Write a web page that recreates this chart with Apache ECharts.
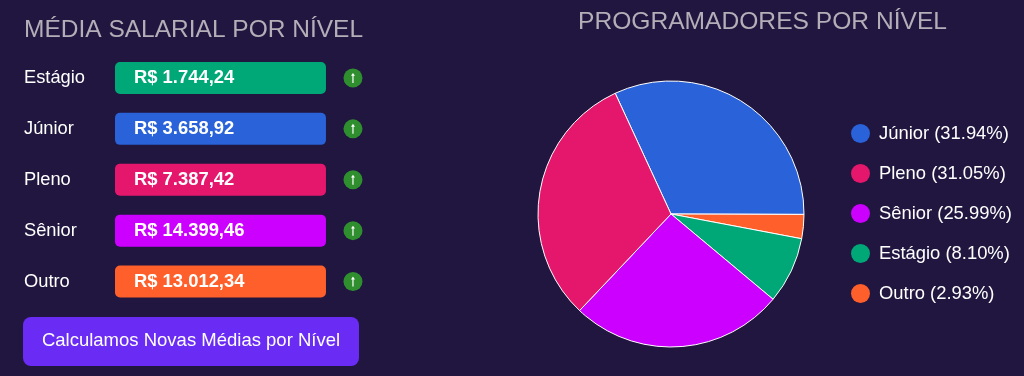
<!DOCTYPE html>
<html>
<head>
<meta charset="utf-8">
<style>
	html, body { margin: 0; padding: 0; background: #21163f; }
	#chart { width: 1024px; height: 376px; }
</style>
<script src="https://cdn.jsdelivr.net/npm/echarts@6/dist/echarts.min.js"></script>
</head>
<body>
<div id="chart"></div>
<script>
	// lista da esquerda
	var niveis = ['Estágio', 'Júnior', 'Pleno', 'Sênior', 'Outro'];
	var salarios = ['R$ 1.744,24', 'R$ 3.658,92', 'R$ 7.387,42', 'R$ 14.399,46', 'R$ 13.012,34'];
	var coresNiveis = ['#00a878', '#2962d9', '#e5176c', '#cc00ff', '#ff5f2a'];
	var larguraCaixa = [1, 1, 1, 1, 1]; // todas as caixas tem o mesmo tamanho
	var posicaoSeta = [1.128, 1.128, 1.128, 1.128, 1.128];

	// pizza, na ordem horaria do desenho
	var pizzaNomes = ['Júnior', 'Outro', 'Estágio', 'Sênior', 'Pleno'];
	var pizzaValores = [31.94, 2.93, 8.10, 25.99, 31.05];
	var pizzaCores = ['#2962d9', '#ff5f2a', '#00a878', '#cc00ff', '#e5176c'];
	var legendaOrdem = ['Júnior', 'Pleno', 'Sênior', 'Estágio', 'Outro'];

	var fonte = '"Liberation Sans", Arial, sans-serif';
	var myChart = echarts.init(document.getElementById('chart'), null, { renderer: 'canvas' });

	myChart.setOption({
		animation: false,
		backgroundColor: '#21163f',
		textStyle: { fontFamily: fonte },
		title: [
			{
				text: 'MÉDIA SALARIAL POR NÍVEL',
				left: 19, top: 13,
				textStyle: { color: '#b4aeb8', fontSize: 24.5, fontWeight: 'normal', fontFamily: fonte }
			},
			{
				text: 'PROGRAMADORES POR NÍVEL',
				left: 573, top: 5,
				textStyle: { color: '#b4aeb8', fontSize: 24.6, fontWeight: 'normal', fontFamily: fonte }
			}
		],
		legend: {
			orient: 'vertical',
			left: 846, top: 119,
			itemWidth: 19, itemHeight: 19, itemGap: 21,
			icon: 'circle',
			data: legendaOrdem,
			itemStyle: { borderWidth: 0 },
			formatter: function (nome) {
				var valor = pizzaValores[pizzaNomes.indexOf(nome)];
				return nome + ' (' + valor.toFixed(2) + '%)';
			},
			textStyle: { color: '#ffffff', fontSize: 18.4, padding: [0, 0, 0, 4], fontFamily: fonte }
		},
		grid: { left: 115, top: 52.5, width: 250, height: 254.5 },
		xAxis: { type: 'value', min: 0, max: 1.185, show: false },
		yAxis: {
			type: 'category',
			inverse: true,
			data: niveis,
			axisLine: { show: false },
			axisTick: { show: false },
			axisLabel: { color: '#ffffff', fontSize: 18.3, align: 'left', margin: 91, fontFamily: fonte }
		},
		series: [
			{
				type: 'bar',
				barWidth: 32,
				data: larguraCaixa.map(function (v, i) {
					return { value: v, itemStyle: { color: coresNiveis[i], borderRadius: 5 } };
				}),
				label: {
					show: true,
					position: 'insideLeft',
					distance: 19,
					color: '#ffffff',
					fontSize: 18.4,
					fontWeight: 'bold',
					fontFamily: fonte,
					formatter: function (p) { return salarios[p.dataIndex]; }
				}
			},
			{
				type: 'scatter',
				symbol: 'circle',
				symbolSize: 19,
				itemStyle: { color: '#2f8f2f', opacity: 1 },
				data: posicaoSeta.map(function (v, i) { return [v, niveis[i]]; })
			},
			{
				type: 'scatter',
				symbol: 'path://M5 0 L9 4 L6.2 4 L6.2 14 L3.8 14 L3.8 4 L1 4 Z',
				symbolSize: [4, 10],
				itemStyle: { color: '#ffffff', opacity: 1 },
				data: posicaoSeta.map(function (v, i) { return [v, niveis[i]]; })
			},
			{
				type: 'pie',
				center: [671, 214],
				radius: 133,
				startAngle: 114.8,
				clockwise: true,
				silent: true,
				label: { show: false },
				labelLine: { show: false },
				itemStyle: { borderColor: '#ffffff', borderWidth: 1 },
				data: pizzaNomes.map(function (nome, i) {
					return { name: nome, value: pizzaValores[i], itemStyle: { color: pizzaCores[i] } };
				})
			}
		],
		graphic: [
			{
				type: 'rect',
				shape: { x: 23, y: 317, width: 336, height: 49, r: 8 },
				style: { fill: '#6a2bf5' }
			},
			{
				type: 'text',
				x: 191, y: 341,
				style: {
					text: 'Calculamos Novas Médias por Nível',
					fill: '#ffffff',
					font: '18.5px ' + fonte,
					textAlign: 'center',
					textVerticalAlign: 'middle'
				}
			}
		]
	});
</script>
</body>
</html>
